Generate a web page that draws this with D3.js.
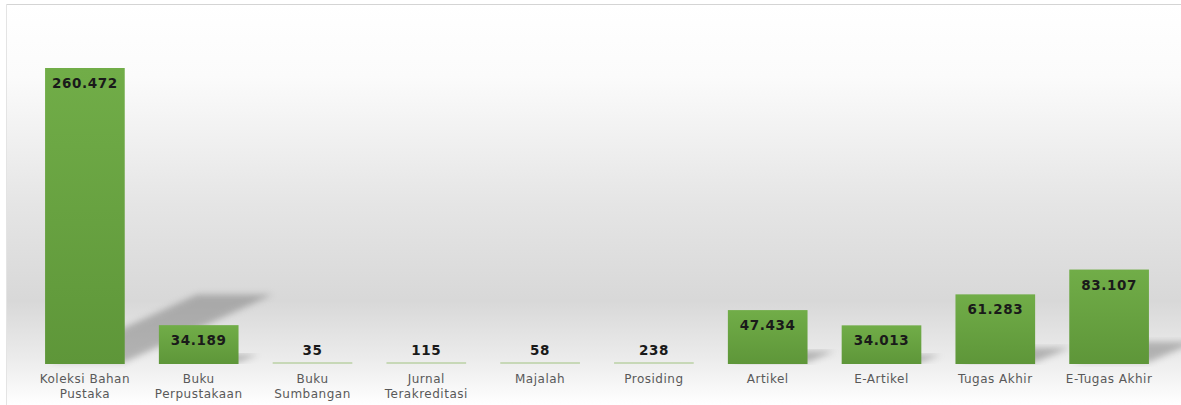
<!DOCTYPE html>
<html>
<head>
<meta charset="utf-8">
<style>
  body { margin: 0; background: #ffffff; }
  svg { display: block; }
</style>
</head>
<body>
<script src="https://d3js.org/d3.v7.min.js"></script>
<script>
    const categories = [
        "Koleksi Bahan Pustaka", "Buku Perpustakaan", "Buku Sumbangan",
        "Jurnal Terakreditasi", "Majalah", "Prosiding", "Artikel",
        "E-Artikel", "Tugas Akhir", "E-Tugas Akhir"
    ];
    const labelLines = [
        ["Koleksi Bahan", "Pustaka"], ["Buku", "Perpustakaan"], ["Buku", "Sumbangan"],
        ["Jurnal", "Terakreditasi"], ["Majalah"], ["Prosiding"], ["Artikel"],
        ["E-Artikel"], ["Tugas Akhir"], ["E-Tugas Akhir"]
    ];
    const values = [260472, 34189, 35, 115, 58, 238, 47434, 34013, 61283, 83107];

    const width = 1181;
    const height = 405;
    const baseY = 364;

    const idLocale = d3.formatLocale({ decimal: ",", thousands: ".", grouping: [3], currency: ["Rp", ""] });
    const fmt = idLocale.format(",d");

    const xScale = d3.scaleBand()
        .domain(categories)
        .range([28, 1166])
        .paddingInner(0.3)
        .paddingOuter(0.15);

    const yScale = d3.scaleLinear()
        .domain([0, 300000])
        .range([baseY, baseY - 296 * 300000 / 260472]);

    const svg = d3.select("body")
        .append("svg")
        .attr("width", width)
        .attr("height", height);

    const defs = svg.append("defs");

    const bg = defs.append("linearGradient")
        .attr("id", "bg").attr("x1", 0).attr("y1", 0).attr("x2", 0).attr("y2", 1);
    [[0, "#ffffff"], [0.18, "#fbfbfb"], [0.5, "#e5e5e5"], [0.74, "#d8d8d8"], [0.88, "#ebebeb"], [1, "#ffffff"]]
        .forEach(s => bg.append("stop").attr("offset", s[0]).attr("stop-color", s[1]));

    const barGrad = defs.append("linearGradient")
        .attr("id", "bar").attr("x1", 0).attr("y1", 0).attr("x2", 0).attr("y2", 1);
    barGrad.append("stop").attr("offset", 0).attr("stop-color", "#71ad48");
    barGrad.append("stop").attr("offset", 1).attr("stop-color", "#5e9639");

    defs.append("filter").attr("id", "blur")
        .attr("x", "-20%").attr("y", "-20%").attr("width", "140%").attr("height", "140%")
        .append("feGaussianBlur").attr("stdDeviation", 3);

    // plot background
    svg.append("rect")
        .attr("x", 6).attr("y", 4)
        .attr("width", width - 6).attr("height", height - 4)
        .attr("fill", "url(#bg)");
    svg.append("line")
        .attr("x1", 6).attr("x2", width).attr("y1", 4.5).attr("y2", 4.5)
        .attr("stroke", "#d4d4d4");
    svg.append("line")
        .attr("x1", 6.5).attr("x2", 6.5).attr("y1", 4).attr("y2", height)
        .attr("stroke", "#e4e4e4");

    const data = categories.map((c, i) => ({ cat: c, value: values[i], lines: labelLines[i] }));

    // shadows
    svg.append("g").selectAll("polygon")
        .data(data.filter(d => baseY - yScale(d.value) > 3))
        .enter()
        .append("polygon")
        .attr("points", d => {
            const h = baseY - yScale(d.value);
            const x0 = xScale(d.cat) + 4, x1 = xScale(d.cat) + xScale.bandwidth();
            const dx = 0.5 * h, dy = 0.235 * h;
            return [[x0, baseY - 2], [x1, baseY - 2], [x1 + dx, baseY - dy], [x0 + dx, baseY - dy]].join(" ");
        })
        .attr("fill", "#7a7a7a")
        .attr("opacity", 0.5)
        .attr("filter", "url(#blur)");

    // bars
    svg.append("g").selectAll("rect")
        .data(data)
        .enter()
        .append("rect")
        .attr("x", d => xScale(d.cat))
        .attr("width", xScale.bandwidth())
        .attr("y", d => Math.min(yScale(d.value), baseY - 2))
        .attr("height", d => Math.max(baseY - yScale(d.value), 2))
        .attr("fill", d => (baseY - yScale(d.value) < 2) ? "#c7d8b7" : "url(#bar)");

    // value labels
    svg.append("g").selectAll("text")
        .data(data)
        .enter()
        .append("text")
        .text(d => fmt(d.value))
        .attr("x", d => xScale(d.cat) + xScale.bandwidth() / 2)
        .attr("y", d => {
            const h = baseY - yScale(d.value);
            return h < 25 ? baseY - 9 : yScale(d.value) + 20;
        })
        .attr("text-anchor", "middle")
        .attr("font-family", "DejaVu Sans, Verdana, sans-serif")
        .attr("font-weight", "bold")
        .attr("font-size", "13.5px")
        .attr("letter-spacing", "0.6px")
        .attr("fill", "#1a1a1a");

    // category labels
    const catG = svg.append("g").selectAll("text")
        .data(data)
        .enter()
        .append("text")
        .attr("x", d => xScale(d.cat) + xScale.bandwidth() / 2)
        .attr("y", 383)
        .attr("text-anchor", "middle")
        .attr("font-family", "DejaVu Sans, Verdana, sans-serif")
        .attr("font-size", "12px")
        .attr("letter-spacing", "0.5px")
        .attr("fill", "#595959");

    catG.selectAll("tspan")
        .data(d => d.lines.map(l => ({ line: l, x: xScale(d.cat) + xScale.bandwidth() / 2 })))
        .enter()
        .append("tspan")
        .attr("x", t => t.x)
        .attr("dy", (t, i) => i === 0 ? 0 : 15)
        .text(t => t.line);
</script>
</body>
</html>
